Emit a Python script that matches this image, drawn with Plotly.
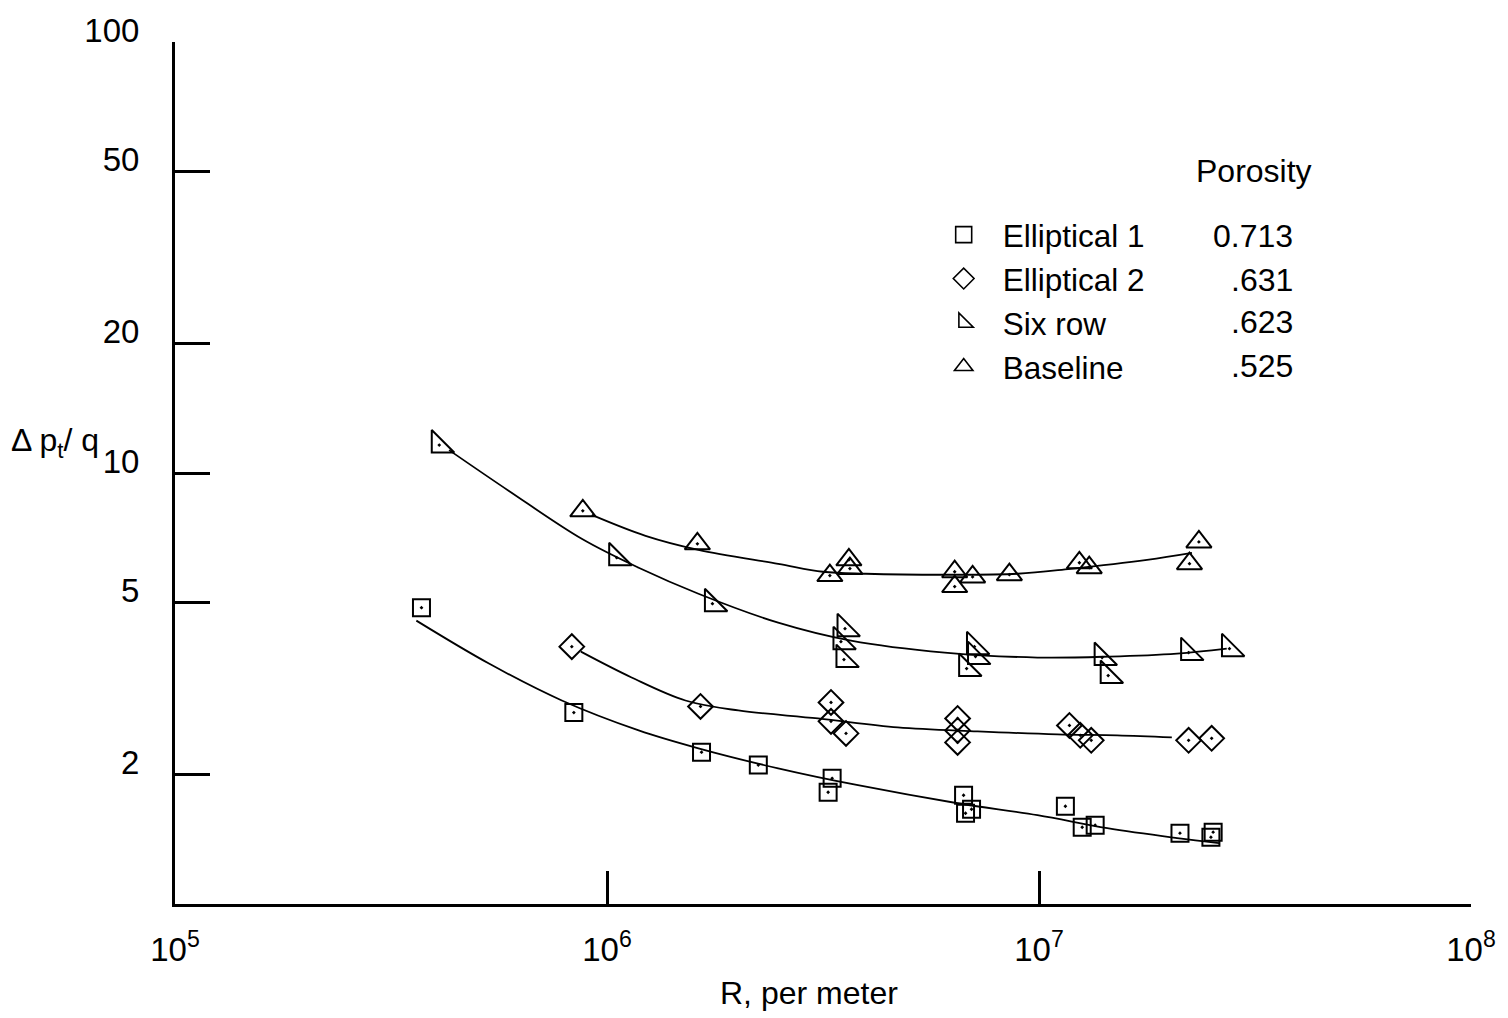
import plotly.graph_objects as go

# ---------------- data ----------------
ell1_R = [3.72e5, 8.38e5, 1.655e6, 2.24e6, 3.32e6, 3.25e6, 6.69e6, 6.76e6, 6.98e6,
          1.151e7, 1.259e7, 1.349e7, 2.12e7, 2.50e7, 2.53e7]
ell1_dp = [4.87, 2.78, 2.25, 2.10, 1.957, 1.817, 1.788, 1.624, 1.659,
           1.686, 1.507, 1.524, 1.460, 1.429, 1.468]

ell2_R = [8.29e5, 1.646e6, 3.30e6, 3.30e6, 3.575e6, 6.48e6, 6.48e6, 6.48e6,
          1.176e7, 1.246e7, 1.321e7, 2.22e7, 2.51e7]
ell2_dp = [3.955, 2.873, 2.935, 2.653, 2.488, 2.695, 2.528, 2.371,
           2.596, 2.462, 2.397, 2.397, 2.423]

six_R = [4.09e5, 1.053e6, 1.754e6, 3.556e6, 3.48e6, 3.536e6, 7.09e6, 7.13e6, 6.80e6,
         1.40e7, 1.446e7, 2.22e7, 2.76e7]
six_dp = [11.61, 6.36, 4.975, 4.354, 4.062, 3.69, 3.955, 3.75, 3.518,
          3.731, 3.389, 3.831, 3.913]

base_R = [8.79e5, 1.619e6, 3.28e6, 3.63e6, 3.65e6, 6.38e6, 6.38e6, 7.02e6, 8.54e6,
          1.24e7, 1.307e7, 2.23e7, 2.345e7]
base_dp = [8.17, 6.85, 5.78, 6.29, 6.00, 5.90, 5.45, 5.74, 5.81,
           6.19, 6.03, 6.16, 6.92]

# faired curves
ell1_curve_R = [3.62e5, 5.33e5, 7.86e5, 1.184e6, 1.628e6, 2.49e6, 3.81e6, 6.48e6,
                9.92e6, 1.439e7, 2.087e7, 2.61e7]
ell1_curve_dp = [4.544, 3.613, 2.966, 2.528, 2.297, 2.064, 1.886, 1.713,
                 1.607, 1.499, 1.422, 1.384]

ell2_curve_R = [8.70e5, 1.140e6, 1.519e6, 2.014e6, 3.08e6, 4.71e6, 7.21e6, 1.103e7,
                1.517e7, 2.03e7]
ell2_curve_dp = [3.85, 3.354, 2.966, 2.812, 2.695, 2.569, 2.515, 2.475, 2.462, 2.436]

six_curve_R = [4.31e5, 5.93e5, 8.74e5, 1.184e6, 1.628e6, 2.49e6, 3.67e6, 6.05e6,
               9.92e6, 1.454e7, 2.087e7, 2.72e7]
six_curve_dp = [11.30, 9.085, 7.036, 6.028, 5.247, 4.496, 4.084, 3.831,
                3.731, 3.75, 3.811, 3.913]

base_curve_R = [9.22e5, 1.228e6, 1.628e6, 2.49e6, 3.16e6, 3.975e6, 6.05e6, 8.92e6,
                1.182e7, 1.779e7, 2.26e7]
base_curve_dp = [7.995, 7.149, 6.633, 6.157, 5.90, 5.838, 5.807, 5.838,
                 5.995, 6.29, 6.53]

series_names = ["Elliptical 1", "Elliptical 2", "Six row", "Baseline"]
porosity = ["0.713", ".631", ".623", ".525"]

x_tickvals = [1e5, 1e6, 1e7, 1e8]
x_ticktext = ["10<sup>5</sup>", "10<sup>6</sup>", "10<sup>7</sup>", "10<sup>8</sup>"]
y_tickvals = [2, 5, 10, 20, 50, 100]
y_ticktext = ["2", "5", "10", "20", "50", "100"]

# ---------------- figure ----------------
FONT = "Liberation Sans, Arial, sans-serif"
INK = "black"

fig = go.Figure()

curves = [(ell1_curve_R, ell1_curve_dp), (ell2_curve_R, ell2_curve_dp),
          (six_curve_R, six_curve_dp), (base_curve_R, base_curve_dp)]
for cx, cy in curves:
    fig.add_trace(go.Scatter(x=cx, y=cy, mode="lines", showlegend=False,
                             line=dict(color=INK, width=1.8, shape="spline", smoothing=1.0),
                             hoverinfo="skip"))

points = [
    (ell1_R, ell1_dp, "square", 17),
    (ell2_R, ell2_dp, "diamond", 19),
    (six_R, six_dp, "triangle-sw", 25),
    (base_R, base_dp, "triangle-up", 22),
]
for (px, py, sym, sz), name in zip(points, series_names):
    # data points (open symbol with centre dot)
    fig.add_trace(go.Scatter(x=px, y=py, mode="markers", name=name, showlegend=False,
                             marker=dict(symbol=sym + "-open-dot", size=sz, color=INK,
                                         line=dict(color=INK, width=2))))
    # legend key (plain open symbol, no data)
    fig.add_trace(go.Scatter(x=[None], y=[None], mode="markers", name=name,
                             showlegend=True, hoverinfo="skip",
                             marker=dict(symbol=sym + "-open", size=sz, color=INK,
                                         line=dict(color=INK, width=1.6))))

W, H = 1508, 1018
L, R_, T, B = 175, 33, 40, 114
PW, PH = W - L - R_, H - T - B


def px2paper(xp, yp):
    return (xp - L) / PW, (H - B - yp) / PH


annotations = []
# porosity column
rows_y = [234, 279, 321, 365]
for val, yy in zip(porosity, rows_y):
    ax, ay = px2paper(1298, yy)
    annotations.append(dict(x=ax, y=ay, xref="paper", yref="paper", text=val,
                            showarrow=False, xanchor="right", yanchor="middle",
                            font=dict(family=FONT, size=32, color=INK)))
ax, ay = px2paper(1318, 169)
annotations.append(dict(x=ax, y=ay, xref="paper", yref="paper", text="Porosity",
                        showarrow=False, xanchor="right", yanchor="middle",
                        font=dict(family=FONT, size=32, color=INK)))
# y-axis title
ax, ay = px2paper(55, 441)
annotations.append(dict(x=ax, y=ay, xref="paper", yref="paper",
                        text="\u0394 p<sub>t</sub>/ q",
                        showarrow=False, xanchor="center", yanchor="middle",
                        font=dict(family=FONT, size=32, color=INK)))
# x-axis title
ax, ay = px2paper(811, 993)
annotations.append(dict(x=ax, y=ay, xref="paper", yref="paper", text="R, per meter",
                        showarrow=False, xanchor="center", yanchor="middle",
                        font=dict(family=FONT, size=32, color=INK)))

lx, ly = px2paper(927, 206)

fig.update_layout(
    width=W, height=H,
    margin=dict(l=L, r=R_, t=T, b=B),
    paper_bgcolor="white", plot_bgcolor="white",
    font=dict(family=FONT, size=32, color=INK),
    showlegend=True,
    legend=dict(x=lx, y=ly, xanchor="left", yanchor="top",
                font=dict(family=FONT, size=31.5, color=INK),
                bgcolor="rgba(0,0,0,0)", borderwidth=0,
                itemwidth=68, tracegroupgap=0),
    annotations=annotations,
)

fig.update_xaxes(type="log", range=[5, 8], tickmode="array",
                 tickvals=x_tickvals, ticktext=x_ticktext,
                 ticks="inside", ticklen=33, tickwidth=3, tickcolor=INK,
                 showline=True, linewidth=3, linecolor=INK,
                 showgrid=False, zeroline=False, mirror=False,
                 ticklabelstandoff=14,
                 tickfont=dict(family=FONT, size=33, color=INK))
fig.update_yaxes(type="log", range=[0, 2], tickmode="array",
                 tickvals=y_tickvals, ticktext=y_ticktext,
                 ticks="inside", ticklen=35, tickwidth=3, tickcolor=INK,
                 showline=True, linewidth=3, linecolor=INK,
                 showgrid=False, zeroline=False, mirror=False,
                 ticklabelstandoff=26, ticklabelshift=-12,
                 tickfont=dict(family=FONT, size=33, color=INK))

fig.write_html("out.html")
